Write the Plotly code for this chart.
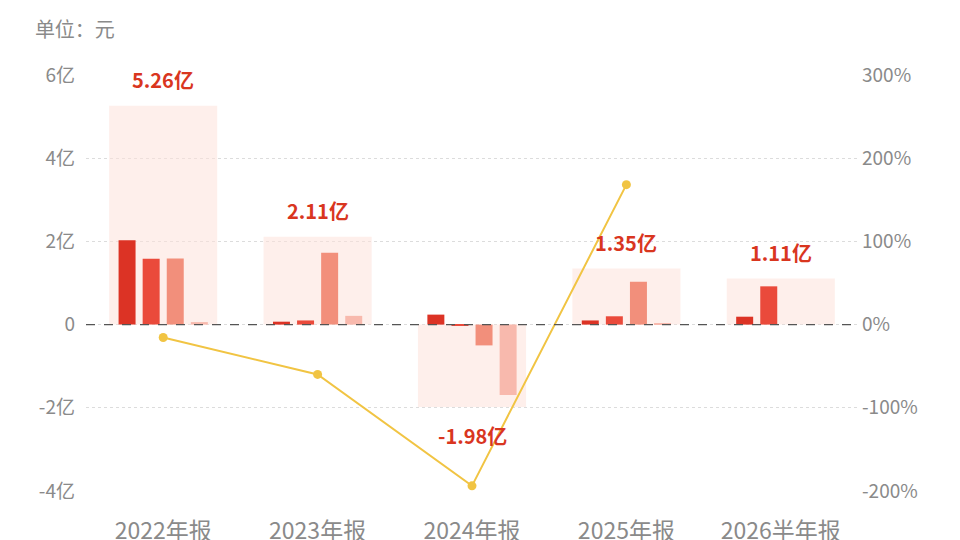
import plotly.graph_objects as go

## data (net profit in 亿元, quarterly breakdown + yearly total, yoy growth %)

categories = ['2022年报', '2023年报', '2024年报', '2025年报', '2026半年报']
totals     = [5.26, 2.11, -1.98, 1.35, 1.11]
total_text = ['5.26亿', '2.11亿', '-1.98亿', '1.35亿', '1.11亿']
q1 = [2.03, 0.07, 0.24, 0.10, 0.19]
q2 = [1.58, 0.10, -0.03, 0.20, 0.92]
q3 = [1.59, 1.73, -0.50, 1.03, None]
q4 = [0.06, 0.21, -1.69, 0.02, None]
yoy = [-15.5, -59.9, -193.8, 168.2, None]

left_ticks   = [-4, -2, 0, 2, 4, 6]
left_labels  = ['-4亿', '-2亿', '0', '2亿', '4亿', '6亿']
right_ticks  = [-200, -100, 0, 100, 200, 300]
right_labels = ['-200%', '-100%', '0%', '100%', '200%', '300%']


## styles

CJK    = 'Noto Sans CJK SC, sans-serif'
GREY   = '#8a8a8a'
RED    = '#d9361f'
COLORS = ['#dc3325', '#ea4a3b', '#f28f7b', '#f8b9ad']
BAR_W  = 0.11
SLOTS  = [-0.234, -0.078, 0.078, 0.234]

fig = go.Figure()

# light background box showing the yearly total
fig.add_trace(go.Bar(
  x=categories, y=totals,
  width=0.70, offset=-0.35,
  marker=dict(color='rgba(253,226,218,0.55)', line=dict(width=0)),
  hoverinfo='skip'
))

# quarterly bars
for vals, col, slot in zip([q1, q2, q3, q4], COLORS, SLOTS):
  fig.add_trace(go.Bar(
    x=categories, y=vals,
    width=BAR_W, offset=slot - BAR_W / 2,
    marker=dict(color=col, line=dict(width=0))
  ))

# yoy growth line on the right axis
fig.add_trace(go.Scatter(
  x=categories, y=yoy, yaxis='y2',
  mode='lines+markers',
  line=dict(color='#f1c443', width=2),
  marker=dict(color='#f1c443', size=9),
  connectgaps=False
))

# total labels above / below the boxes
for cat, val, txt in zip(categories, totals, total_text):
  fig.add_annotation(
    x=cat, y=val, text='<b>%s</b>' % txt, showarrow=False,
    yshift=26 if val >= 0 else -29,
    font=dict(family=CJK, size=20, color=RED)
  )

# dashed zero line
fig.add_shape(
  type='line', xref='paper', x0=0, x1=1, y0=0, y1=0, yref='y',
  line=dict(color='#555555', width=1.2, dash='dash'), layer='above'
)

fig.update_layout(
  width=960, height=540,
  margin=dict(l=78, r=110, t=67, b=57, autoexpand=False),
  paper_bgcolor='white', plot_bgcolor='white',
  barmode='overlay', showlegend=False,
  title=dict(
    text='单位：元', xref='container', x=0.028, y=0.959,
    xanchor='left', yanchor='middle',
    font=dict(family=CJK, size=20, color=GREY)
  ),
  xaxis=dict(
    type='category', showgrid=False, zeroline=False, showline=False,
    ticks='', ticklabelstandoff=24, automargin=False,
    tickfont=dict(family=CJK, size=23, color=GREY)
  ),
  yaxis=dict(
    range=[-4, 6], tickvals=left_ticks, ticktext=left_labels,
    showgrid=True, gridcolor='#dcdcdc', griddash='dot', gridwidth=1,
    zeroline=False, showline=False, ticks='', ticklabelstandoff=10,
    automargin=False,
    tickfont=dict(family=CJK, size=19, color=GREY)
  ),
  yaxis2=dict(
    range=[-200, 300], tickvals=right_ticks, ticktext=right_labels,
    overlaying='y', side='right', showgrid=False, zeroline=False,
    showline=False, ticks='', ticklabelstandoff=3, automargin=False,
    tickfont=dict(family=CJK, size=19, color=GREY)
  )
)

fig.write_html('out.html')
